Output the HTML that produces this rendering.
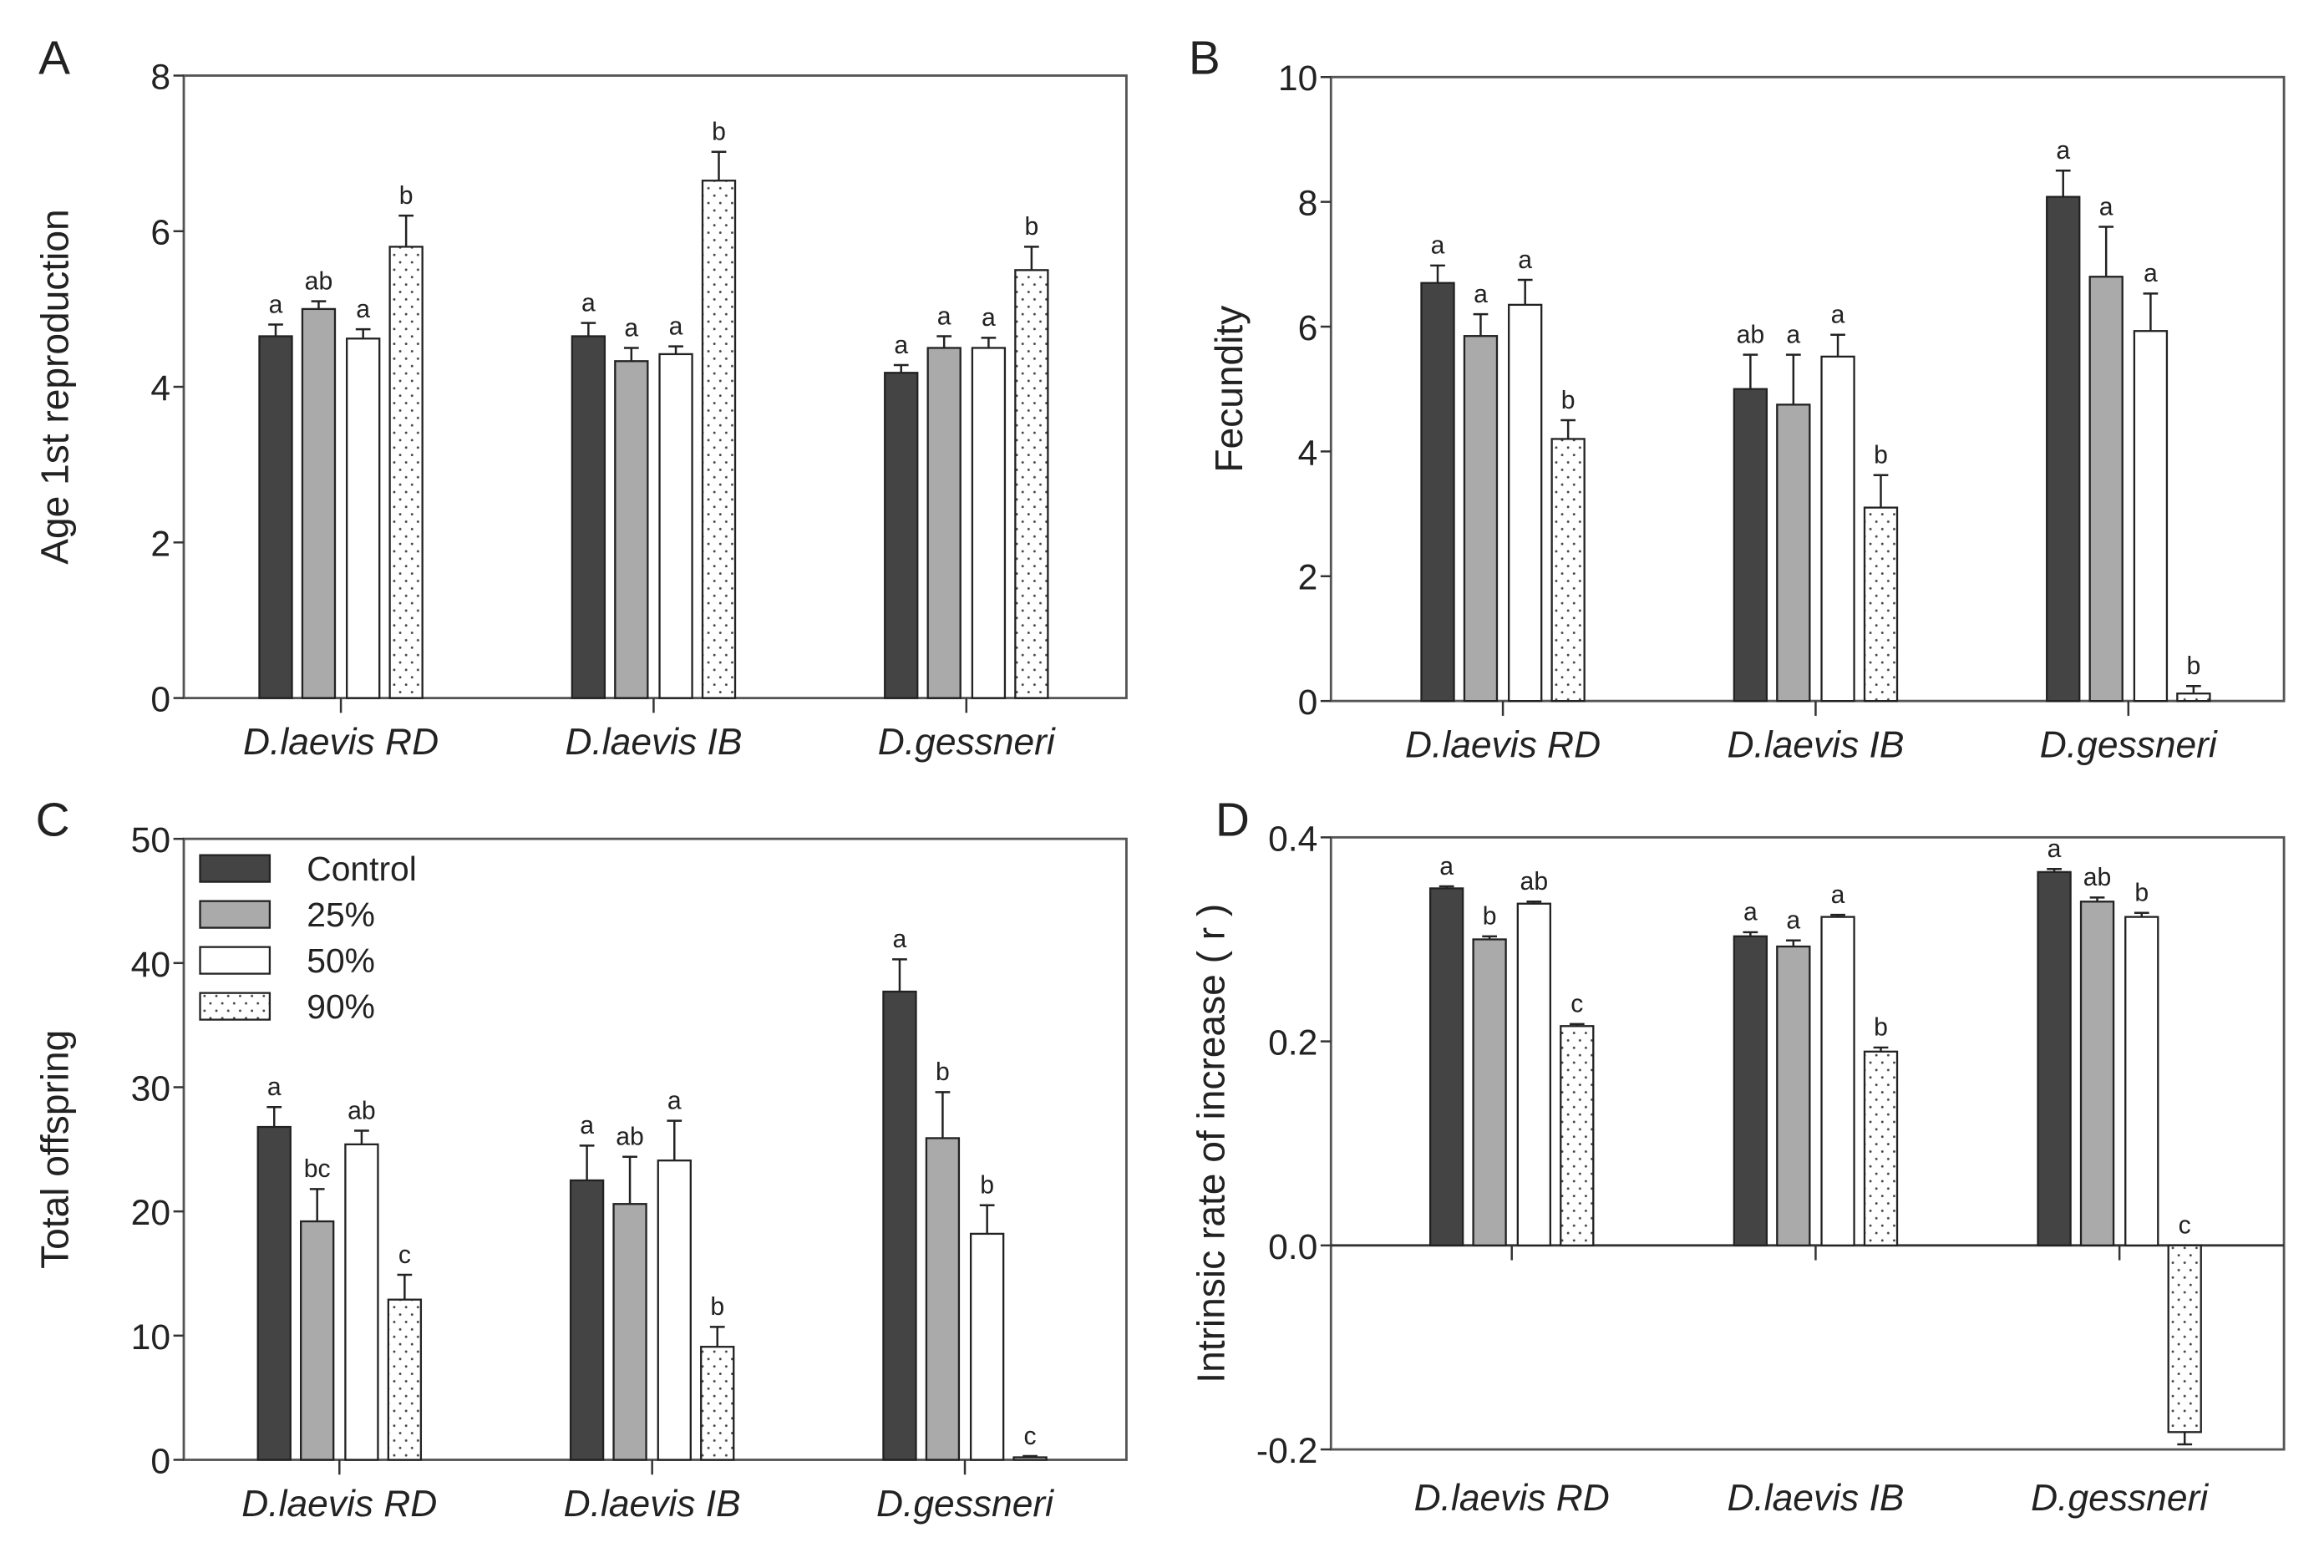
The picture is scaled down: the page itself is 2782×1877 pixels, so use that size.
<!DOCTYPE html>
<html><head><meta charset="utf-8"><style>
html,body{margin:0;padding:0;background:#fff}
svg{display:block}
text{font-family:"Liberation Sans",Arial,sans-serif;fill:#222}
</style></head><body>
<svg id="fig" width="2782" height="1877" viewBox="0 0 1568 1058" preserveAspectRatio="none" xmlns="http://www.w3.org/2000/svg">
<defs>
<pattern id="dots" width="8" height="10" patternUnits="userSpaceOnUse">
<rect width="8" height="10" fill="#fff"/>
<circle cx="2" cy="2" r="0.8" fill="#444"/>
<circle cx="6" cy="7" r="0.8" fill="#444"/>
</pattern>
</defs>
<g id="root"></g>
</svg>
<script>
const categories = ["D.laevis RD","D.laevis IB","D.gessneri"];
const seriesNames = ["Control","25%","50%","90%"];
const aValues = [[4.65,5.0,4.62,5.8],[4.65,4.33,4.42,6.65],[4.18,4.5,4.5,5.5]];
const aErrors = [[0.15,0.1,0.12,0.4],[0.17,0.17,0.1,0.37],[0.1,0.15,0.13,0.3]];
const aLetters = [["a","ab","a","b"],["a","a","a","b"],["a","a","a","b"]];
const aTicks = [0,2,4,6,8];
const bValues = [[6.7,5.85,6.35,4.2],[5.0,4.75,5.52,3.1],[8.08,6.8,5.93,0.12]];
const bErrors = [[0.28,0.35,0.4,0.3],[0.55,0.8,0.35,0.52],[0.42,0.8,0.6,0.12]];
const bLetters = [["a","a","a","b"],["ab","a","a","b"],["a","a","a","b"]];
const bTicks = [0,2,4,6,8,10];
const cValues = [[26.8,19.2,25.4,12.9],[22.5,20.6,24.1,9.1],[37.7,25.9,18.2,0.2]];
const cErrors = [[1.6,2.6,1.1,2.0],[2.8,3.8,3.2,1.6],[2.6,3.7,2.3,0.1]];
const cLetters = [["a","bc","ab","c"],["a","ab","a","b"],["a","b","b","c"]];
const cTicks = [0,10,20,30,40,50];
const dValues = [[0.35,0.30,0.335,0.215],[0.303,0.293,0.322,0.19],[0.366,0.337,0.322,-0.183]];
const dErrors = [[0.002,0.003,0.002,0.002],[0.004,0.006,0.002,0.004],[0.003,0.004,0.004,0.012]];
const dLetters = [["a","b","ab","c"],["a","a","a","b"],["a","ab","b","c"]];
const dTicks = [-0.2,0.0,0.2,0.4];
const fills = ["#444","#aaa","#fff","url(#dots)"];

const NS="http://www.w3.org/2000/svg";
const root=document.getElementById('root');
function mk(tag,attrs,parent){const e=document.createElementNS(NS,tag);for(const k in attrs)e.setAttribute(k,attrs[k]);(parent||root).appendChild(e);return e;}

function panel(o){
  const g=mk('g',{});
  
  
  const yS=v=>o.bottom-(v-o.min)/(o.max-o.min)*(o.bottom-o.top);
  const y0=yS(Math.max(o.min,0));
  const xC=i=>o.left+o.c0+i*o.cs;
  const offs=[-44,-15,15,44], bw=22;
  const fr=mk('rect',{x:o.left,y:o.top,width:o.right-o.left,height:o.bottom-o.top,fill:'none',stroke:'#555','stroke-width':1.6},g);
  
  
  if(o.min<0){const zl=mk('line',{x1:o.left,x2:o.right,y1:y0,y2:y0,stroke:'#333','stroke-width':1.6},g);
    
    }
  o.ticks.forEach(t=>{
    const y=yS(t);
    mk('line',{x1:o.left-7,x2:o.left,y1:y,y2:y,stroke:'#333','stroke-width':1.4},g);
    const tx=mk('text',{x:o.left-9,y:y+9,'text-anchor':'end','font-size':24},g);
    tx.textContent=o.fmt(t);
    
    
  });
  const yt=mk('text',{x:0,y:0,'text-anchor':'middle','font-size':26,transform:`translate(${o.left-o.ytX},${(o.top+o.bottom)/2}) rotate(-90)`},g);
  yt.textContent=o.ytitle;
  
  
  const pl=mk('text',{x:o.letterX,y:o.letterY,'font-size':32},g);
  pl.textContent=o.id;
  
  
  categories.forEach((c,i)=>{
    const cx=xC(i);
    mk('line',{x1:cx,x2:cx,y1:y0,y2:y0+10,stroke:'#333','stroke-width':1.4},g);
    const cl=mk('text',{x:cx,y:o.catY,'text-anchor':'middle','font-size':25,'font-style':'italic'},g);
    cl.textContent=c;
    
    
    o.vals[i].forEach((v,j)=>{
      const x=cx+offs[j]-bw/2, yv=yS(v);
      const top=Math.min(yv,y0), h=Math.abs(yv-y0);
      const r=mk('rect',{x:x,y:top,width:bw,height:Math.max(h,1),fill:fills[j],stroke:'#222','stroke-width':1.3},g);
      
      
      const e=o.errs[i][j];
      const ye=v>=0?yS(v+e):yS(v-e);
      mk('line',{x1:x+bw/2,x2:x+bw/2,y1:yv,y2:ye,stroke:'#222','stroke-width':1.4},g);
      mk('line',{x1:x+bw/2-5,x2:x+bw/2+5,y1:ye,y2:ye,stroke:'#222','stroke-width':1.4},g);
      const ly=v>=0?yS(v+e)-8:y0-8;
      const lt=mk('text',{x:x+bw/2,y:ly,'text-anchor':'middle','font-size':17},g);
      lt.textContent=o.lets[i][j];
      
      
    });
  });
}
panel({id:'A',left:124,right:760,top:51,bottom:471,min:0,max:8,ticks:aTicks,vals:aValues,errs:aErrors,lets:aLetters,fmt:t=>t,ytitle:'Age 1st reproduction',ytX:78,c0:106,cs:211,catY:509,letterX:26,letterY:50});
panel({id:'B',left:898,right:1541,top:52,bottom:473,min:0,max:10,ticks:bTicks,vals:bValues,errs:bErrors,lets:bLetters,fmt:t=>t,ytitle:'Fecundity',ytX:60,c0:116,cs:211,catY:511,letterX:802,letterY:50});
panel({id:'C',left:124,right:760,top:566,bottom:985,min:0,max:50,ticks:cTicks,vals:cValues,errs:cErrors,lets:cLetters,fmt:t=>t,ytitle:'Total offspring',ytX:78,c0:105,cs:211,catY:1023,letterX:24,letterY:564});
panel({id:'D',left:898,right:1541,top:565,bottom:978,min:-0.2,max:0.4,ticks:dTicks,vals:dValues,errs:dErrors,lets:dLetters,fmt:t=>t.toFixed(1),ytitle:'Intrinsic rate of increase ( r )',ytX:72,c0:122,cs:205,catY:1019,letterX:820,letterY:564});
const leg=mk('g',{});


seriesNames.forEach((n,j)=>{
  const y=586+j*31;
  const sw=mk('rect',{x:135,y:y-9,width:47,height:18,fill:fills[j],stroke:'#222','stroke-width':1.3},leg);
  
  
  const t=mk('text',{x:207,y:y+8,'font-size':23},leg);
  t.textContent=n;
  
  
});
</script>
</body></html>
